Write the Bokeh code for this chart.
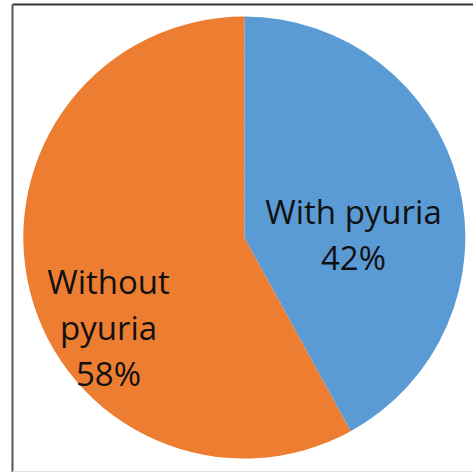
from math import pi
from bokeh.plotting import figure
from bokeh.models import Range1d, ColumnDataSource
from bokeh.core.properties import value
from bokeh.embed import file_html
from bokeh.resources import INLINE

categories = ["With pyuria", "Without pyuria"]
percents = [42, 58]
colors = ["#5B9BD5", "#ED7D31"]
label_lines = [["With pyuria", "42%"], ["Without", "pyuria", "58%"]]

W, H = 473, 472
p = figure(width=W, height=H, output_backend="svg", toolbar_location=None,
           x_range=Range1d(0, W), y_range=Range1d(0, H), min_border=0)
p.axis.visible = False
p.grid.visible = False
p.outline_line_color = None
p.background_fill_color = "white"

cx, cy, r = 243.8, H - 237, 221
total = sum(percents)
starts, ends = [], []
a = pi / 2
for v in percents:
    starts.append(a)
    a = a - 2 * pi * v / total
    ends.append(a)
src = ColumnDataSource(dict(start=starts, end=ends, color=colors, cat=categories))
p.wedge(x=cx, y=cy, radius=r, start_angle="start", end_angle="end",
        direction="clock", fill_color="color", line_color=None, source=src)

# frame
p.segment(x0=[12], y0=[H - 4], x1=[W], y1=[H - 4], line_color="#333333", line_width=2)
p.segment(x0=[12], y0=[H - 4], x1=[12], y1=[0], line_color="#555555", line_width=2)
p.segment(x0=[12], y0=[H - 471], x1=[W], y1=[H - 471], line_color="#dddddd", line_width=1)

# labels
lx = [353, 108]
ly0 = [211, 281]
spacing = 46
tx, ty, tt = [], [], []
for i, lines in enumerate(label_lines):
    for j, t in enumerate(lines):
        tx.append(lx[i])
        ty.append(H - (ly0[i] + j * spacing))
        tt.append(t)
p.text(x=tx, y=ty, text=tt, text_align="center", text_baseline="alphabetic",
       text_font=value("Open Sans"), text_font_size="33px", text_color="#111111")

open("out.html", "w").write(file_html(p, INLINE))
